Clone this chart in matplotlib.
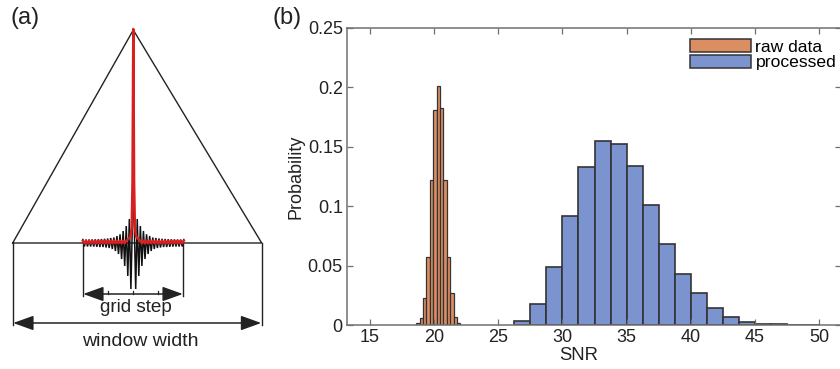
import numpy as np
import matplotlib
matplotlib.use('Agg')
import matplotlib.pyplot as plt
from matplotlib.patches import Patch

plt.rcParams['font.family'] = ['Liberation Sans', 'DejaVu Sans']

# ---------------- data: panel (b) ----------------
raw_edges = [18.6, 18.865, 19.13, 19.395, 19.66, 19.925, 20.19, 20.455,
             20.72, 20.985, 21.25, 21.515, 21.78, 22.045]
raw_prob = [0.0014, 0.0056, 0.0224, 0.0575, 0.122, 0.181, 0.201, 0.183,
            0.122, 0.0575, 0.0272, 0.007, 0.002]

proc_edges = [26.25, 27.5, 28.75, 30, 31.25, 32.5, 33.75, 35, 36.25, 37.5,
              38.75, 40, 41.25, 42.5, 43.75, 45, 46.25, 47.5, 48.75, 50]
proc_prob = [0.003, 0.0174, 0.0485, 0.0917, 0.1327, 0.155, 0.152, 0.134,
             0.1007, 0.068, 0.0427, 0.0267, 0.014, 0.007, 0.0028, 0.001,
             0.0005, 0.0002, 0.0001]

x_ticks = [15, 20, 25, 30, 35, 40, 45, 50]
y_ticks = [0, 0.05, 0.1, 0.15, 0.2, 0.25]
y_tick_labels = ['0', '0.05', '0.1', '0.15', '0.2', '0.25']
legend_labels = ['raw data', 'processed']

# ---------------- data: panel (a) schematic ----------------
# oscillation amplitudes (px) of the black sinc-like signal, centre outwards
black_up = [24, 17, 12, 8.7, 7, 5.5, 5, 4.5, 4.2, 4, 3.8, 3.7, 3.6, 3.5, 3.5, 3.5]
black_down = [46, 33, 23, 16, 11, 8, 6, 5, 4.5, 4, 4, 3.8, 3.6, 3.5, 3.5, 3.5]
red_peak_offsets = [-6, -3, -1.6, -0.8, 0, 0.8, 1.6, 3, 6]
red_peak_heights = [2, 5, 14, 60, 213, 60, 14, 5, 2]

# ---------------- figure ----------------
fig = plt.figure(figsize=(8.4, 3.69), dpi=100)

# panel (a) in pixel coordinates
axa = fig.add_axes([0, 0, 1, 1])
axa.set_xlim(0, 840)
axa.set_ylim(369, 0)
axa.axis('off')

ink = '#222222'
red = '#d92020'
cx, apex_y = 133.3, 30
base_y = 243
bl, br = 12.7, 261.7
il, ir = 82.7, 183.3
outer_bot, inner_bot = 325, 296
win_arrow_y, grid_arrow_y = 323, 294

axa.plot([bl, cx, br, bl], [base_y, apex_y, base_y, base_y], color=ink, lw=1.0)
axa.plot([bl, bl], [base_y, outer_bot], color=ink, lw=1.0)
axa.plot([br, br], [base_y, outer_bot], color=ink, lw=1.0)
axa.plot([il, il], [base_y, inner_bot], color=ink, lw=1.0)
axa.plot([ir, ir], [base_y, inner_bot], color=ink, lw=1.0)

arrow_style = '<|-|>,head_length=1.25,head_width=0.45'
axa.annotate('', xy=(bl + 0.5, win_arrow_y), xytext=(br - 0.5, win_arrow_y),
             arrowprops=dict(arrowstyle=arrow_style, color=ink, lw=1.1,
                             shrinkA=0, shrinkB=0))
axa.annotate('', xy=(il + 0.5, grid_arrow_y), xytext=(ir - 0.5, grid_arrow_y),
             arrowprops=dict(arrowstyle=arrow_style, color=ink, lw=1.1,
                             shrinkA=0, shrinkB=0))
for tx in [cx - 25, cx, cx + 25]:
    axa.plot([tx, tx], [grid_arrow_y, grid_arrow_y - 3.5], color=ink, lw=0.9)

axa.text(cx + 3, 308, 'grid step', ha='center', va='center', fontsize=13.6, color=ink)
axa.text(cx + 7, 341, 'window width', ha='center', va='center', fontsize=14, color=ink)

# black oscillating signal
period = 3.1
xs_r, ys_r = [], []
for k in range(len(black_up)):
    xs_r += [cx + 2.4 + period * k, cx + 3.95 + period * k]
    ys_r += [base_y + black_down[k], base_y - black_up[k]]
xs_r = np.array(xs_r)
ys_r = np.array(ys_r)
bx = np.concatenate([2 * cx - xs_r[::-1], [cx], xs_r])
by = np.concatenate([ys_r[::-1], [base_y - 60], ys_r])
axa.plot(bx, by, color='#111111', lw=1.1, solid_joinstyle='miter')

# red signal: ripple along baseline + narrow central peak
rx = np.concatenate([2 * cx - xs_r[::-1], xs_r])
ry = np.concatenate([base_y - 1 + 1.2 * np.tile([1, -1], len(black_up))[::-1],
                     base_y - 1 + 1.2 * np.tile([1, -1], len(black_up))])
order = np.argsort(rx)
rx, ry = rx[order], ry[order]
mask_l = rx < cx - 6
mask_r = rx > cx + 6
red_x = np.concatenate([rx[mask_l], cx + np.array(red_peak_offsets), rx[mask_r]])
red_y = np.concatenate([ry[mask_l], base_y - 1 - np.array(red_peak_heights), ry[mask_r]])
axa.plot(red_x, red_y, color=red, lw=1.8)

axa.text(11, 18, '(a)', ha='left', va='center', fontsize=17, color=ink)
axa.text(273, 18, '(b)', ha='left', va='center', fontsize=17, color=ink)

# panel (b)
orange = '#dc8e63'
blue = '#7b93cf'
edge = '#333333'
spine = '#707070'

axb = fig.add_axes([347 / 840, 44 / 369, 494 / 840, 297 / 369])
axb.bar(raw_edges[:-1], raw_prob, width=np.diff(raw_edges), align='edge',
        color=orange, edgecolor=edge, linewidth=0.9)
axb.bar(proc_edges[:-1], proc_prob, width=np.diff(proc_edges), align='edge',
        color=blue, edgecolor=edge, linewidth=1.2)
axb.set_xlim(13.2, 51.72)
axb.set_ylim(0, 0.25)
axb.set_xticks(x_ticks)
axb.set_yticks(y_ticks)
axb.set_yticklabels(y_tick_labels)
axb.tick_params(direction='in', length=4, width=0.9, color=spine,
                top=True, right=True, labelsize=13, labelcolor=ink, pad=3)
for s in axb.spines.values():
    s.set_color(spine)
    s.set_linewidth(1.1)
axb.set_xlabel('SNR', fontsize=13.3, color=ink)
axb.xaxis.set_label_coords((579 - 347) / 494, -0.075)
axb.set_ylabel('Probability', fontsize=13, color=ink, labelpad=2)

handles = [Patch(facecolor=orange, edgecolor=edge, linewidth=1.1),
           Patch(facecolor=blue, edgecolor=edge, linewidth=1.1)]
axb.legend(handles, legend_labels, loc='upper left', bbox_to_anchor=(0.694, 0.962),
           frameon=False, fontsize=12.6, handlelength=3.5, handleheight=0.75,
           labelspacing=0.0, handletextpad=0.25, borderpad=0, borderaxespad=0)

fig.savefig('out.png', dpi=100)
